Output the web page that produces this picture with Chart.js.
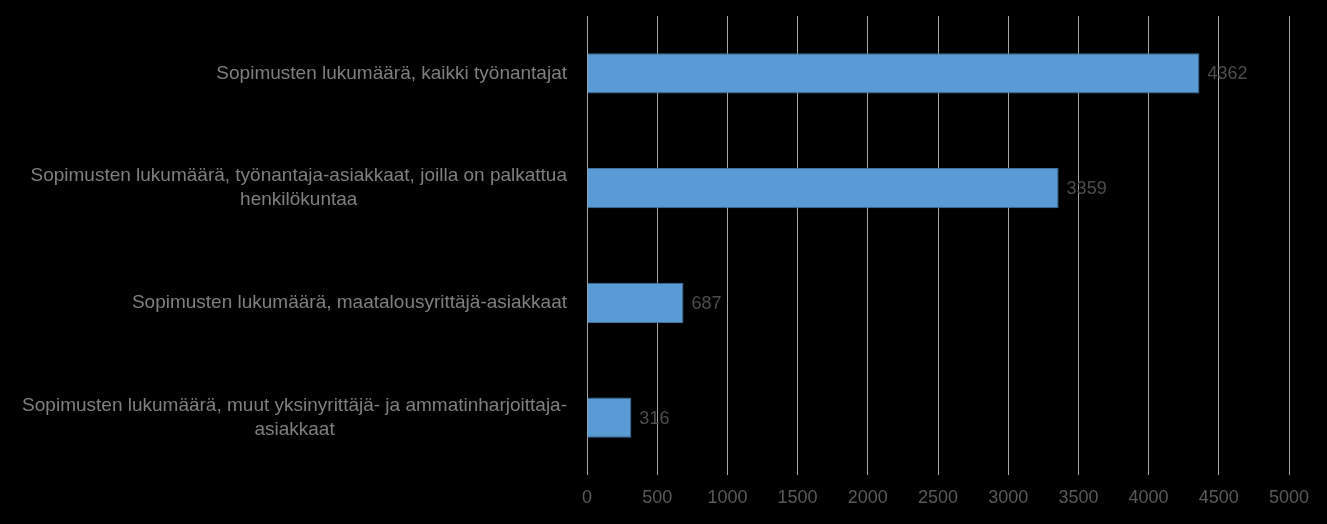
<!DOCTYPE html>
<html>
<head>
<meta charset="utf-8">
<script src="https://cdn.jsdelivr.net/npm/chart.js@4/dist/chart.umd.min.js"></script>
<style>
  html, body { margin: 0; padding: 0; background: #000; }
  #wrap { width: 1327px; height: 524px; }
</style>
</head>
<body>
<div id="wrap"><canvas id="chart" width="1327" height="524"></canvas></div>
<script>
const categories = [
  ['Sopimusten lukumäärä, kaikki työnantajat'],
  ['Sopimusten lukumäärä, työnantaja-asiakkaat, joilla on palkattua', 'henkilökuntaa'],
  ['Sopimusten lukumäärä, maatalousyrittäjä-asiakkaat'],
  ['Sopimusten lukumäärä, muut yksinyrittäjä- ja ammatinharjoittaja-', 'asiakkaat']
];
const values = [4362, 3359, 687, 316];
const xMin = 0, xMax = 5000, xStep = 500;

const FONT = '"Liberation Sans", sans-serif';

// value labels at the end of each bar
const barLabels = {
  id: 'barLabels',
  afterDatasetsDraw(chart) {
    const ctx = chart.ctx;
    const meta = chart.getDatasetMeta(0);
    ctx.save();
    ctx.fillStyle = '#4d4d4d';
    ctx.font = '18px ' + FONT;
    ctx.textBaseline = 'middle';
    ctx.textAlign = 'left';
    meta.data.forEach((bar, i) => {
      ctx.fillText(values[i], bar.x + 8, bar.y + 1);
    });
    ctx.restore();
  }
};

// category labels: block right-aligned to the axis, lines centred inside the block
const catLabels = {
  id: 'catLabels',
  afterDraw(chart) {
    const ctx = chart.ctx;
    const y = chart.scales.y;
    const lineH = 24;
    ctx.save();
    ctx.fillStyle = '#7f7f7f';
    ctx.font = '19px ' + FONT;
    ctx.textBaseline = 'middle';
    ctx.textAlign = 'center';
    const right = chart.chartArea.left - 20;
    categories.forEach((lines, i) => {
      const w = Math.max(...lines.map(l => ctx.measureText(l).width));
      const cx = right - w / 2;
      const cy = y.getPixelForTick(i) - (lines.length - 1) * lineH / 2;
      lines.forEach((l, k) => ctx.fillText(l, cx, cy + k * lineH));
    });
    ctx.restore();
  }
};

const ctx = document.getElementById('chart').getContext('2d');
new Chart(ctx, {
  type: 'bar',
  data: {
    labels: categories,
    datasets: [{
      data: values,
      backgroundColor: '#5B9BD5',
      borderColor: '#41719C',
      borderWidth: 1,
      barPercentage: 0.35,
      categoryPercentage: 1
    }]
  },
  options: {
    indexAxis: 'y',
    responsive: false,
    animation: false,
    layout: { padding: { top: 16, right: 38, left: 0, bottom: 0 } },
    plugins: {
      legend: { display: false },
      tooltip: { enabled: false }
    },
    scales: {
      x: {
        min: xMin,
        max: xMax,
        ticks: {
          stepSize: xStep,
          color: '#595959',
          font: { family: FONT, size: 18 },
          padding: 12,
          callback: (v) => String(v)
        },
        grid: { color: '#a6a6a6', lineWidth: 1, drawTicks: false },
        border: { display: false },
        afterFit(scale) {
          scale.height = 49;
          scale.paddingLeft = 0;
          scale.paddingRight = 0;
        }
      },
      y: {
        ticks: {
          color: 'rgba(0,0,0,0)',
          font: { family: FONT, size: 19 },
          padding: 20
        },
        grid: { display: false, drawTicks: false },
        border: { display: false },
        afterFit(scale) {
          scale.width = 587;
          scale.paddingTop = 0;
          scale.paddingBottom = 0;
        }
      }
    }
  },
  plugins: [barLabels, catLabels]
});
</script>
</body>
</html>
